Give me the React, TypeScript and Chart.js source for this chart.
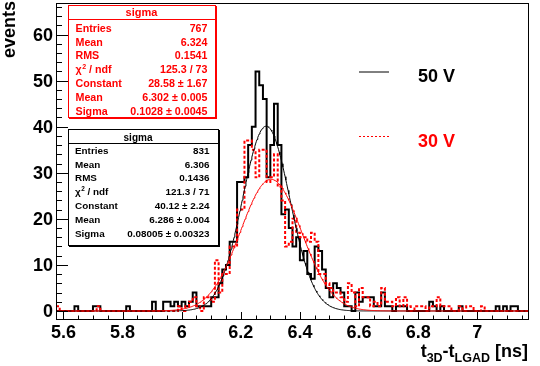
import React, { useEffect, useRef } from 'react';
import { Chart, registerables } from 'chart.js';

Chart.register(...registerables);

// ---------------- data ----------------
const binLow = 5.575;
const binWidth = 0.0125;

// 50 V histogram (black), 128 bins of 0.0125 ns from 5.575 ns
const counts50V = [
  0, 0, 0, 0, 0, 1, 0, 0, 0, 0, 1, 1, 0, 0, 0, 0,
  0, 0, 0, 1, 0, 0, 0, 0, 0, 0, 2, 0, 0, 2, 2, 1,
  2, 1, 2, 1, 2, 4, 1, 1, 1, 1, 3, 3, 6, 9, 10, 15,
  15, 28, 28, 29, 36, 40, 52, 49, 46, 29, 36, 45, 36, 21, 22, 18,
  14, 16, 11, 13, 8, 7, 14, 13, 9, 5, 3, 6, 5, 4, 1, 1,
  0, 4, 2, 3, 3, 3, 1, 1, 4, 1, 1, 0, 1, 1, 1, 0,
  0, 0, 0, 0, 0, 2, 1, 0, 1, 0, 0, 0, 0, 1, 0, 0,
  0, 0, 0, 0, 0, 0, 0, 1, 0, 1, 0, 1, 1, 0, 0, 0,
];

// 30 V histogram (red dashed)
const counts30V = [
  1, 0, 0, 0, 0, 0, 0, 0, 0, 0, 0, 1, 0, 0, 0, 0,
  0, 0, 0, 0, 0, 0, 0, 0, 0, 0, 0, 0, 0, 0, 0, 0,
  0, 1, 0, 1, 2, 3, 1, 0, 3, 3, 2, 11, 4, 8, 8, 14,
  14, 22, 22, 37, 37, 35, 29, 35, 35, 28, 29, 34, 27, 24, 14, 15,
  20, 17, 16, 16, 15, 17, 15, 8, 8, 6, 5, 4, 4, 3, 2, 6,
  4, 1, 5, 3, 3, 1, 2, 1, 5, 2, 2, 1, 3, 1, 3, 1,
  0, 1, 1, 1, 0, 1, 1, 3, 1, 1, 1, 0, 0, 1, 0, 1,
  1, 0, 0, 1, 0, 0, 0, 0, 0, 0, 0, 0, 0, 0, 0, 0,
];

// Gaussian fit parameters [Constant, Mean, Sigma] from the stat boxes
const fit50V = [40.12, 6.286, 0.08005];
const fit30V = [28.58, 6.302, 0.1028];

const xTickLabels = ['5.6', '5.8', '6', '6.2', '6.4', '6.6', '6.8', '7'];
const yTickLabels = ['0', '10', '20', '30', '40', '50', '60'];

const xRange = [5.575, 7.175];
const yRange = [-1.96, 66.85];

const statsTitle = 'sigma';
const stats30V = [
  ['Entries', '767'],
  ['Mean', '6.324'],
  ['RMS', '0.1541'],
  ['χ² / ndf', '125.3 / 73'],
  ['Constant', '28.58 ± 1.67'],
  ['Mean', '6.302 ± 0.005'],
  ['Sigma', '0.1028 ± 0.0045'],
];
const stats50V = [
  ['Entries', '831'],
  ['Mean', '6.306'],
  ['RMS', '0.1436'],
  ['χ² / ndf', '121.3 / 71'],
  ['Constant', '40.12 ± 2.24'],
  ['Mean', '6.286 ± 0.004'],
  ['Sigma', '0.08005 ± 0.00323'],
];

const legendLabels = ['50 V', '30 V'];

// ---------------- drawing helpers ----------------
const FAM = '"Liberation Sans", Arial, Helvetica, sans-serif';
const RED = '#ff0000';

function drawLabel(ctx: CanvasRenderingContext2D, label: string, x: number, y: number, px: number) {
  if (label.startsWith('χ²')) {
    ctx.font = `bold ${px}px ${FAM}`;
    ctx.fillText('χ', x, y);
    const w1 = ctx.measureText('χ').width + 0.5;
    ctx.font = `bold ${(px * 0.65).toFixed(1)}px ${FAM}`;
    ctx.fillText('2', x + w1, y - px * 0.38);
    const w2 = ctx.measureText('2').width;
    ctx.font = `bold ${px}px ${FAM}`;
    ctx.fillText(label.slice(2), x + w1 + w2, y);
  } else {
    ctx.font = `bold ${px}px ${FAM}`;
    ctx.fillText(label, x, y);
  }
}

function drawStatBox(
  ctx: CanvasRenderingContext2D,
  color: string,
  box: { l: number; t: number; r: number; b: number; sep: number },
  title: string,
  titleX: number,
  titleBase: number,
  titlePx: number,
  rows: string[][],
  px: number,
  labelX: number,
  valueR: number,
  row0: number,
  step: number
) {
  const w = box.r - box.l;
  const h = box.b - box.t;
  ctx.fillStyle = color;
  ctx.fillRect(box.l + 1, box.t + 1, w + 1, h + 1);
  ctx.fillStyle = '#fff';
  ctx.fillRect(box.l, box.t, w, h);
  ctx.strokeStyle = color;
  ctx.lineWidth = 1;
  ctx.strokeRect(box.l + 0.5, box.t + 0.5, w, h);
  ctx.beginPath();
  ctx.moveTo(box.l, box.sep + 0.5);
  ctx.lineTo(box.r, box.sep + 0.5);
  ctx.stroke();

  ctx.fillStyle = color;
  ctx.textBaseline = 'alphabetic';
  ctx.textAlign = 'center';
  ctx.font = `bold ${titlePx}px ${FAM}`;
  ctx.fillText(title, titleX, titleBase);
  rows.forEach((row, i) => {
    const y = row0 + i * step;
    ctx.textAlign = 'left';
    drawLabel(ctx, row[0], labelX, y, px);
    ctx.textAlign = 'right';
    ctx.font = `bold ${px}px ${FAM}`;
    ctx.fillText(row[1], valueR, y);
  });
}

const rootPlugin = {
  id: 'rootDecor',
  afterDatasetsDraw(chart: any) {
    const { ctx, chartArea: a, scales } = chart;
    const xs = scales.x;
    const ys = scales.y;
    ctx.save();

    // frame
    ctx.strokeStyle = '#000';
    ctx.lineWidth = 1;
    ctx.setLineDash([]);
    ctx.strokeRect(a.left + 0.5, a.top + 0.5, a.right - a.left - 1, a.bottom - a.top - 1);

    // y ticks (inside, left)
    ctx.beginPath();
    for (let v = 0; v <= yRange[1]; v += 2) {
      const y = Math.round(ys.getPixelForValue(v)) + 0.5;
      const len = v % 10 === 0 ? 12 : 6;
      ctx.moveTo(a.left, y);
      ctx.lineTo(a.left + len, y);
    }
    // x ticks (inside, bottom)
    const i0 = Math.ceil(xRange[0] / 0.05 - 1e-6);
    const i1 = Math.floor(xRange[1] / 0.05 + 1e-6);
    for (let i = i0; i <= i1; i++) {
      const x = Math.round(xs.getPixelForValue(i * 0.05)) + 0.5;
      const len = i % 4 === 0 ? 8 : 4.5;
      ctx.moveTo(x, a.bottom);
      ctx.lineTo(x, a.bottom - len);
    }
    ctx.stroke();

    // tick labels
    ctx.fillStyle = '#000';
    ctx.font = `bold 18px ${FAM}`;
    ctx.textBaseline = 'alphabetic';
    ctx.textAlign = 'right';
    yTickLabels.forEach((t) => {
      const y = ys.getPixelForValue(parseFloat(t));
      ctx.fillText(t, 53, y + 6.5);
    });
    ctx.textAlign = 'center';
    xTickLabels.forEach((t) => {
      const x = xs.getPixelForValue(parseFloat(t));
      ctx.fillText(t, x, 338);
    });

    // y title (rotated)
    ctx.save();
    ctx.translate(15, 1);
    ctx.rotate(-Math.PI / 2);
    ctx.textAlign = 'right';
    ctx.font = `bold 18px ${FAM}`;
    ctx.fillText('events', 0, 0);
    ctx.restore();

    // x title with subscripts: t_{3D}-t_{LGAD} [ns]
    const parts: [string, boolean][] = [
      ['t', false],
      ['3D', true],
      ['-t', false],
      ['LGAD', true],
      [' [ns]', false],
    ];
    const mainF = `bold 18px ${FAM}`;
    const subF = `bold 12.5px ${FAM}`;
    let total = 0;
    parts.forEach(([s, sub]) => {
      ctx.font = sub ? subF : mainF;
      total += ctx.measureText(s).width;
    });
    let xx = 528 - total;
    ctx.textAlign = 'left';
    parts.forEach(([s, sub]) => {
      ctx.font = sub ? subF : mainF;
      ctx.fillText(s, xx, sub ? 361.5 : 356.5);
      xx += ctx.measureText(s).width;
    });

    // legend
    ctx.lineWidth = 1;
    ctx.strokeStyle = '#000';
    ctx.beginPath();
    ctx.moveTo(359, 72);
    ctx.lineTo(389, 72);
    ctx.stroke();
    ctx.strokeStyle = RED;
    ctx.setLineDash([2, 2]);
    ctx.beginPath();
    ctx.moveTo(359, 136.5);
    ctx.lineTo(389, 136.5);
    ctx.stroke();
    ctx.setLineDash([]);
    ctx.font = `bold 18px ${FAM}`;
    ctx.textAlign = 'left';
    ctx.fillStyle = '#000';
    ctx.fillText(legendLabels[0], 418, 81.7);
    ctx.fillStyle = RED;
    ctx.fillText(legendLabels[1], 418, 146.7);

    // stat boxes
    drawStatBox(ctx, RED, { l: 68, t: 5, r: 215, b: 117, sep: 19 }, statsTitle, 141.5, 15.8, 11,
      stats30V, 10.7, 75.5, 207.5, 31.7, 13.8);
    drawStatBox(ctx, '#000', { l: 68, t: 129, r: 218, b: 245, sep: 143 }, statsTitle, 138, 140.7, 10,
      stats50V, 9.9, 75, 209.5, 153.8, 13.8);

    ctx.restore();
  },
};

function histSteps(counts: number[]) {
  const pts = counts.map((c, k) => ({ x: binLow + k * binWidth, y: c }));
  pts.push({ x: binLow + counts.length * binWidth, y: counts[counts.length - 1] });
  return pts;
}

function gaussCurve(p: number[]) {
  const pts: { x: number; y: number }[] = [];
  const n = 640;
  for (let i = 0; i <= n; i++) {
    const x = xRange[0] + ((xRange[1] - xRange[0]) * i) / n;
    const z = (x - p[1]) / p[2];
    pts.push({ x, y: p[0] * Math.exp(-0.5 * z * z) });
  }
  return pts;
}

export default function App() {
  const ref = useRef<HTMLCanvasElement>(null);
  useEffect(() => {
    document.body.style.margin = '0';
    const canvas = ref.current!;
    const chart = new Chart(canvas, {
      type: 'line',
      data: {
        datasets: [
          {
            label: '50 V',
            data: histSteps(counts50V),
            stepped: 'before',
            borderColor: '#000',
            borderWidth: 2,
            pointRadius: 0,
            fill: false,
            order: 4,
          },
          {
            label: '30 V',
            data: histSteps(counts30V),
            stepped: 'before',
            borderColor: RED,
            borderWidth: 2,
            borderDash: [3, 2],
            pointRadius: 0,
            fill: false,
            order: 3,
          },
          {
            label: 'fit 50 V',
            data: gaussCurve(fit50V),
            borderColor: '#000',
            borderWidth: 1,
            pointRadius: 0,
            fill: false,
            tension: 0,
            order: 2,
          },
          {
            label: 'fit 30 V',
            data: gaussCurve(fit30V),
            borderColor: RED,
            borderWidth: 1,
            pointRadius: 0,
            fill: false,
            tension: 0,
            order: 1,
          },
        ],
      } as any,
      options: {
        animation: false,
        responsive: false,
        devicePixelRatio: 1,
        events: [],
        layout: { padding: { left: 56, right: 11, top: 3, bottom: 46 } },
        scales: {
          x: { type: 'linear', min: xRange[0], max: xRange[1], display: false },
          y: { type: 'linear', min: yRange[0], max: yRange[1], display: false },
        },
        plugins: { legend: { display: false }, tooltip: { enabled: false } },
      } as any,
      plugins: [rootPlugin as any],
    });
    return () => chart.destroy();
  }, []);
  return <canvas ref={ref} width={540} height={366} style={{ display: 'block' }} />;
}
